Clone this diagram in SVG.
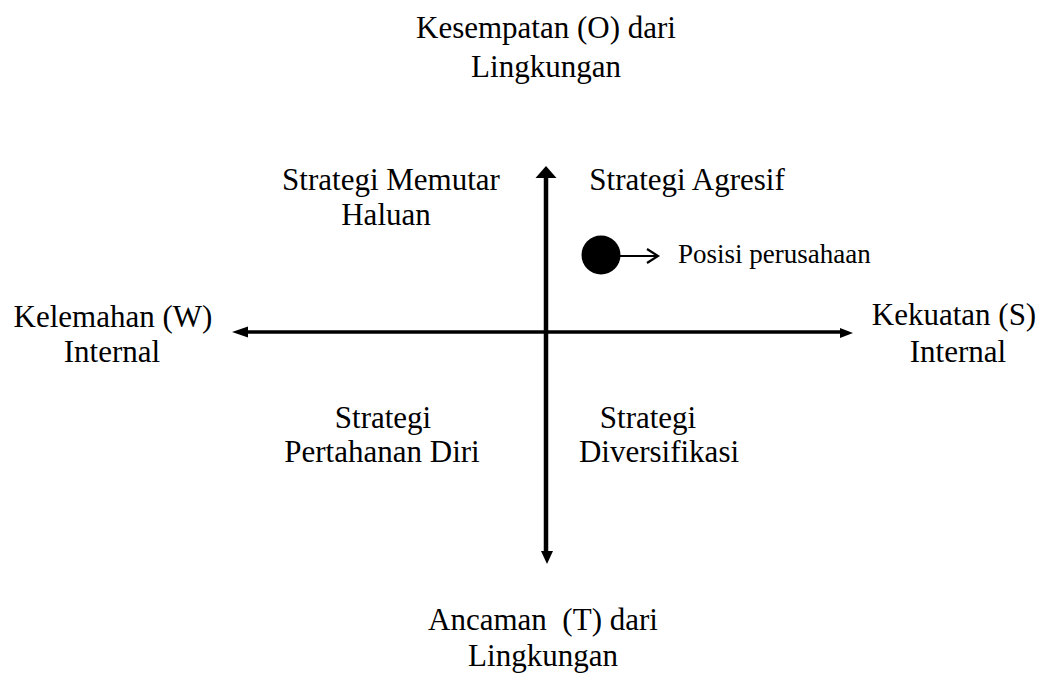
<svg xmlns="http://www.w3.org/2000/svg" width="1047" height="689" viewBox="0 0 1047 689">
  <style>
    text { font-family: "Liberation Serif", "Times New Roman", serif; fill: #000; text-anchor: middle; }
    .lbl { font-size: 31px; }
    .small { font-size: 27px; text-anchor: start; }
    .axis { stroke: #000; fill: none; }
    .head { fill: #000; stroke: none; }
  </style>
  <rect width="1047" height="689" fill="#fff"/>

  <!-- Axes -->
  <g id="connectors">
    <!-- vertical axis: opportunities (up) / threats (down) -->
    <line class="axis" x1="546" y1="174" x2="546" y2="555" stroke-width="4.5"/>
    <path class="head" d="M546,166 L556.5,178 L535.5,178 Z"/>
    <path class="head" d="M547,564 L553,551 L541,551 Z"/>
    <!-- horizontal axis: weaknesses (left) / strengths (right) -->
    <line class="axis" x1="242" y1="332" x2="845" y2="332" stroke-width="3.5"/>
    <path class="head" d="M232,332 L248,326.5 L248,337.5 Z"/>
    <path class="head" d="M853,333 L840,328 L840,338 Z"/>
    <!-- company position pointer -->
    <line class="axis" x1="620" y1="256" x2="656" y2="256" stroke-width="2"/>
    <path class="axis" d="M647,249 L658,256 L647,263" stroke-width="2.2"/>
  </g>

  <g id="node-opportunities">
    <text class="lbl" x="546" y="38">Kesempatan (O) dari</text>
    <text class="lbl" x="546" y="77">Lingkungan</text>
  </g>

  <g id="node-threats">
    <text class="lbl" x="543" y="630" xml:space="preserve">Ancaman  (T) dari</text>
    <text class="lbl" x="543" y="666">Lingkungan</text>
  </g>

  <g id="node-weakness">
    <text class="lbl" x="113" y="327">Kelemahan (W)</text>
    <text class="lbl" x="112" y="362">Internal</text>
  </g>

  <g id="node-strength">
    <text class="lbl" x="954" y="325">Kekuatan (S)</text>
    <text class="lbl" x="958" y="362">Internal</text>
  </g>

  <g id="node-turnaround">
    <text class="lbl" x="391" y="190">Strategi Memutar</text>
    <text class="lbl" x="386" y="225">Haluan</text>
  </g>

  <g id="node-aggressive">
    <text class="lbl" x="687" y="190">Strategi Agresif</text>
  </g>

  <g id="node-defensive">
    <text class="lbl" x="383" y="428">Strategi</text>
    <text class="lbl" x="382" y="462">Pertahanan Diri</text>
  </g>

  <g id="node-diversification">
    <text class="lbl" x="648" y="428">Strategi</text>
    <text class="lbl" x="659" y="462">Diversifikasi</text>
  </g>

  <g id="node-position">
    <circle cx="601" cy="255" r="19.5" fill="#000"/>
    <text class="small" x="678" y="263">Posisi perusahaan</text>
  </g>
</svg>
